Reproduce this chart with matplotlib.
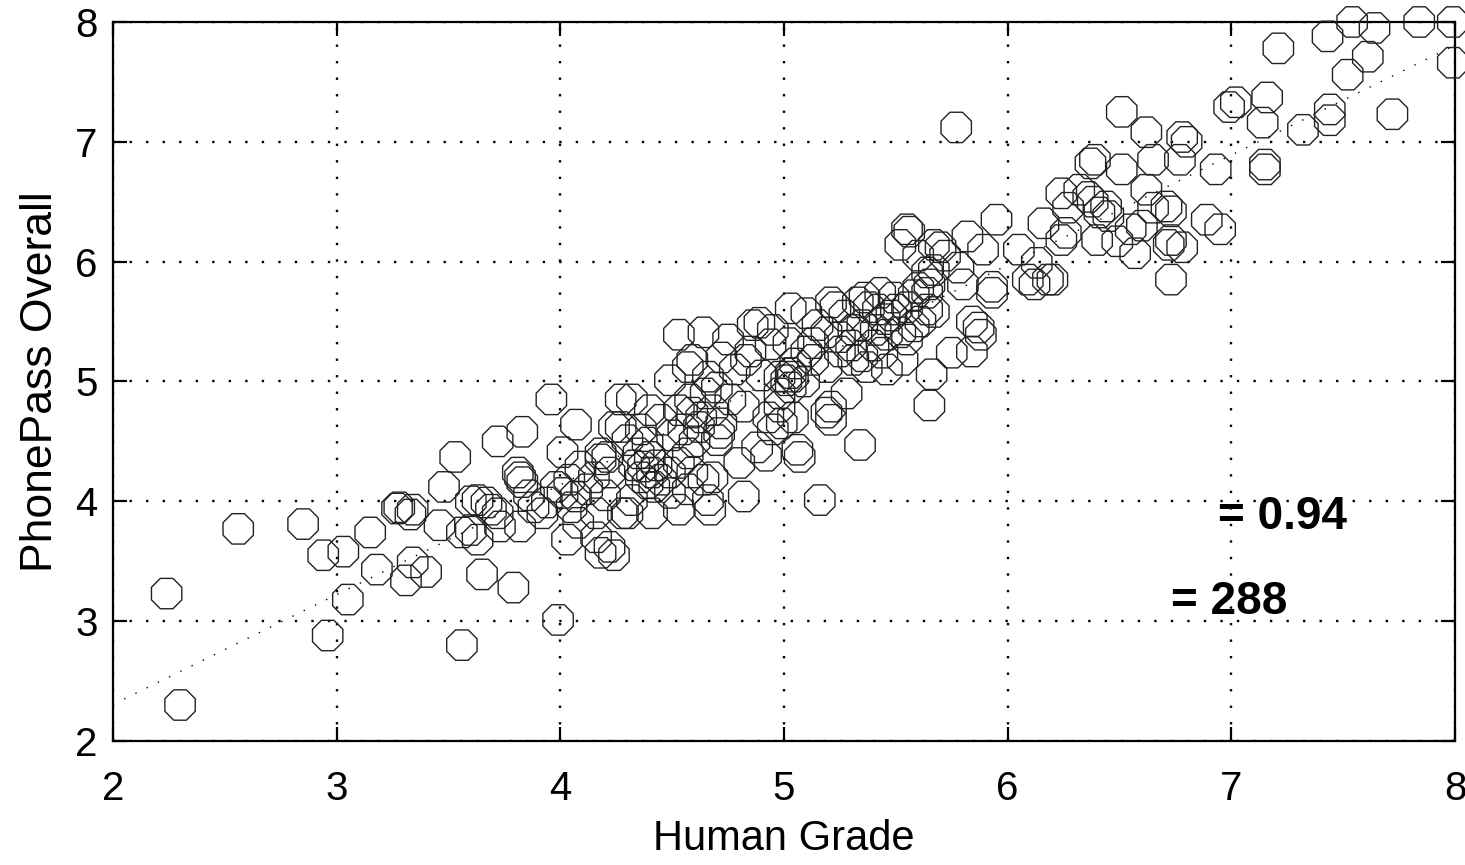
import matplotlib
matplotlib.use("Agg")
import matplotlib.pyplot as plt

plt.rcParams['font.family'] = ['Liberation Sans', 'DejaVu Sans']

# human grade (x) vs PhonePass overall score (y)
human_grade = [
    2.24, 2.30, 2.56, 2.85, 2.94, 3.03, 2.96, 3.05, 3.15, 3.18, 3.27, 3.33, 3.31, 3.34, 3.40, 3.28, 3.34, 3.46, 3.48,
    3.53, 3.56, 3.56, 3.60, 3.63, 3.63, 3.60, 3.67, 3.65, 3.69, 3.72, 3.72, 3.73, 3.79, 3.81, 3.82, 3.83, 3.83, 3.82, 3.92, 3.94, 3.96, 3.99,
    4.01, 4.01, 4.03, 4.04, 4.07, 4.07, 4.08, 4.09, 4.15, 4.16, 4.16, 4.18, 4.18, 4.18, 4.21, 4.22, 4.22, 4.24, 4.24, 4.27,
    4.27, 4.28, 4.30, 4.30, 4.32, 4.32, 4.36, 4.37, 4.39, 4.39, 4.40, 4.40, 4.41, 4.41, 4.45, 4.45, 4.49, 4.49, 4.49,
    4.53, 4.53, 4.53, 4.53, 4.57, 4.57, 4.59, 4.59, 4.59, 4.62, 4.64, 4.64, 4.66, 4.66, 4.67, 4.68, 4.68, 4.70, 4.70, 4.71,
    4.75, 4.76, 4.80, 4.82, 4.82, 4.83, 4.86, 4.89, 4.93, 4.94, 4.95, 4.95, 4.98, 4.98, 4.98, 4.99,
    5.01, 5.03, 5.04, 5.03, 5.03, 5.02, 5.04, 5.06, 5.07, 5.10, 5.13, 5.13, 5.16, 5.19, 5.19, 5.19, 5.21, 5.21, 5.21,
    5.23, 5.25, 5.28, 5.31, 5.31, 5.33, 5.34, 5.35, 5.35, 5.37, 5.41, 5.42, 5.43, 5.44, 5.46, 5.46, 5.49, 5.50,
    5.52, 5.52, 5.53, 5.55, 5.55, 5.56, 5.55, 5.58, 5.61, 5.64, 5.64, 5.64, 5.65, 5.65, 5.66, 5.67, 5.67, 5.67, 5.70,
    5.75, 5.77, 5.80, 5.82, 5.84, 5.84, 5.87, 5.88, 5.89, 5.93, 5.93, 5.95,
    6.05, 6.09, 6.12, 6.13, 6.16, 6.18, 6.20, 6.24, 6.24, 6.26, 6.36, 6.37, 6.38, 6.39, 6.40, 6.41, 6.44, 6.49,
    6.51, 6.51, 6.55, 6.57, 6.62, 6.62, 6.65, 6.71, 6.72, 6.73, 6.73, 6.73, 6.77, 6.78, 6.78, 6.80, 6.89, 6.93, 6.95, 6.99,
    7.02, 7.14, 7.15, 7.15, 7.16, 7.21, 7.32, 7.43, 7.44, 7.44, 7.52, 7.54, 7.61, 7.64, 7.72, 7.84, 7.99, 7.99,
    4.55, 4.60, 4.63, 4.58, 4.65, 4.72, 4.50, 4.57, 4.33, 4.36, 4.43, 4.42, 4.35,
    5.27, 5.38, 5.45, 5.30, 5.40, 5.25, 5.48, 5.36, 5.05, 5.09, 5.10, 4.78, 4.85, 4.72, 4.90,
    6.27, 6.32, 6.45, 5.72, 5.60, 5.78, 3.86, 3.98, 4.05, 3.88, 6.65, 6.60, 4.12, 4.20,
    5.58, 5.60, 4.88, 4.92, 5.15,
]
phonepass = [
    3.23, 2.30, 3.77, 3.81, 3.55, 3.58, 2.88, 3.18, 3.74, 3.43, 3.94, 3.89, 3.34, 3.49, 3.41, 3.95, 3.93, 3.80, 4.12,
    4.37, 2.80, 3.74, 3.76, 3.68, 4.01, 4.00, 3.99, 3.39, 3.93, 3.90, 4.50, 3.79, 3.28, 4.24, 4.20, 4.16, 4.58, 3.79, 3.90, 3.99, 4.85, 3.01,
    4.41, 4.07, 3.68, 4.18, 4.04, 4.64, 3.82, 4.29, 4.20, 3.70, 3.90, 4.40, 4.35, 3.57, 4.37, 4.24, 3.62, 4.62, 3.55, 4.85,
    4.62, 3.90, 4.51, 3.90, 4.85, 4.01, 4.60, 4.29, 4.49, 4.15, 4.76, 4.37, 4.24, 3.90, 4.68, 4.18, 5.01, 4.24, 4.07,
    4.76, 4.32, 5.39, 3.93, 5.12, 4.10, 5.18, 4.74, 4.24, 4.62, 5.41, 4.18, 5.04, 4.01, 3.93, 4.76, 4.20, 4.95, 4.51, 4.57,
    5.35, 4.85, 4.32, 4.79, 4.04, 5.18, 5.47, 5.49, 4.70, 5.31, 5.43, 4.60, 4.90, 5.04, 4.79, 4.65,
    5.01, 5.07, 5.04, 4.95, 5.61, 5.32, 4.70, 4.43, 4.37, 5.57, 5.32, 5.18, 4.01, 5.41, 5.12, 4.74, 5.66, 4.79, 4.68,
    5.62, 5.37, 4.90, 5.43, 5.18, 5.66, 4.47, 5.47, 5.21, 5.12, 5.43, 5.60, 5.74, 5.24, 5.39, 5.10, 5.70, 5.60,
    5.41, 6.14, 5.18, 5.35, 6.27, 6.25, 5.62, 5.46, 5.50, 5.60, 5.91, 5.74, 5.81, 4.80, 5.06, 5.93, 6.14, 5.58, 6.12,
    5.24, 7.12, 5.81, 6.21, 5.50, 5.25, 5.45, 5.39, 6.10, 5.79, 5.74, 6.35,
    6.10, 5.85, 5.81, 5.99, 6.32, 5.85, 5.85, 6.57, 6.18, 6.24, 6.54, 6.82, 6.50, 6.85, 6.18, 6.41, 6.46, 6.17,
    7.25, 6.77, 6.27, 6.07, 7.08, 6.60, 6.85, 6.46, 6.14, 6.42, 6.18, 5.85, 6.85, 7.04, 6.12, 7.00, 6.35, 6.77, 6.27, 7.29,
    7.33, 7.16, 6.81, 6.77, 7.37, 7.78, 7.10, 7.88, 7.27, 7.18, 7.56, 8.00, 7.71, 7.95, 7.23, 8.00, 8.00, 7.66,
    4.60, 4.50, 4.70, 4.85, 4.90, 4.65, 4.55, 4.40, 4.30, 4.20, 4.30, 4.12, 4.40,
    5.55, 5.62, 5.52, 5.30, 5.30, 5.25, 5.55, 5.70, 5.15, 5.00, 5.25, 5.10, 5.25, 5.20, 5.05,
    6.45, 6.60, 6.38, 6.05, 6.05, 5.95, 4.05, 4.12, 3.95, 3.95, 6.45, 6.30, 4.10, 4.05,
    5.72, 5.78, 4.45, 4.38, 5.47,
]

# dotted regression line
fit_x = [2, 8]
fit_y = [0.47 + 0.917 * v for v in fit_x]

ticks = [2, 3, 4, 5, 6, 7, 8]

fig = plt.figure(figsize=(14.65, 8.65), dpi=100)
ax = fig.add_axes([0.0771, 0.1434, 0.9161, 0.8312])

ax.plot(fit_x, fit_y, color='black', linewidth=1.0, linestyle=(0, (1, 8)), zorder=2)
ax.scatter(human_grade, phonepass, marker='8', s=560, facecolors='none',
           edgecolors='#222222', linewidths=1.0, clip_on=False, zorder=3)

ax.set_xlim(2, 8)
ax.set_ylim(2, 8)
ax.set_xticks(ticks)
ax.set_yticks(ticks)
ax.grid(True, color='black', linewidth=1.7, linestyle=(0, (1, 6)))
ax.set_axisbelow(True)

for s in ax.spines.values():
    s.set_linewidth(1.6)
ax.tick_params(direction='in', length=10, width=1.6, top=True, right=True,
               labelsize=29)
ax.tick_params(axis='x', pad=21)
ax.tick_params(axis='y', pad=11)

ax.set_xlabel('Human Grade', fontsize=30, labelpad=8)
ax.set_ylabel('PhonePass Overall', fontsize=32, labelpad=10)

ax.text(6.94, 3.87, '= 0.94', fontsize=33, fontweight='bold', ha='left', va='center')
ax.text(6.73, 3.16, '= 288', fontsize=33, fontweight='bold', ha='left', va='center')

fig.savefig('out.png', dpi=100)
